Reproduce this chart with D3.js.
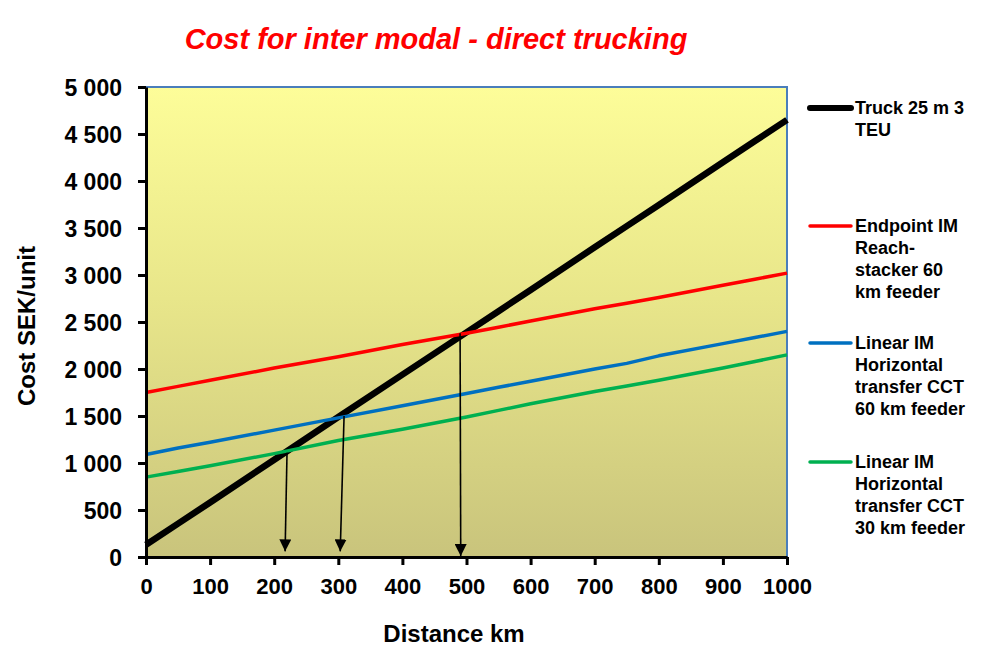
<!DOCTYPE html>
<html><head><meta charset="utf-8">
<script src="https://cdn.jsdelivr.net/npm/d3@7"></script>
<style>body{margin:0;background:#fff;}svg{display:block;font-family:Arial,"Liberation Sans",sans-serif;}</style>
</head><body>
<svg id="c" width="1001" height="669"></svg>
<script>
const distance = [0, 50, 100, 200, 300, 400, 500, 550, 600, 700, 750, 800, 900, 950, 1000];
const truck    = [130, 355, 580, 1035, 1490, 1940, 2390, 2615, 2840, 3295, 3520, 3745, 4200, 4425, 4650];
const endpoint = [1750, 1815, 1880, 2010, 2130, 2260, 2380, 2445, 2510, 2640, 2700, 2760, 2890, 2955, 3020];
const linear60 = [1090, 1160, 1220, 1350, 1480, 1610, 1740, 1805, 1870, 2000, 2060, 2140, 2270, 2335, 2400];
const linear30 = [850, 910, 970, 1100, 1240, 1360, 1490, 1560, 1630, 1760, 1820, 1880, 2010, 2080, 2150];
const seriesNames = ["Truck 25 m 3 TEU", "Endpoint IM Reach-stacker 60 km feeder", "Linear IM Horizontal transfer CCT 60 km feeder", "Linear IM Horizontal transfer CCT 30 km feeder"];
const legendLines = [["Truck 25 m 3","TEU"],["Endpoint IM","Reach-","stacker 60","km feeder"],["Linear IM","Horizontal","transfer CCT","60 km feeder"],["Linear IM","Horizontal","transfer CCT","30 km feeder"]];
const xTicks = [0,100,200,300,400,500,600,700,800,900,1000];
const yTicks = [0,500,1000,1500,2000,2500,3000,3500,4000,4500,5000];
// break-even arrows in data units
const arrowStartX = [220, 309, 490];
const arrowStartY = [1110, 1500, 2380];
const arrowEndX   = [217, 303, 491];
const arrowEndY   = [60, 60, 10];

const svg = d3.select("#c");
const L=146, R=787, T=87, B=557;
const x = d3.scaleLinear().domain([0,1000]).range([L,R]);
const y = d3.scaleLinear().domain([0,5000]).range([B,T]);

const defs = svg.append("defs");
const g = defs.append("linearGradient").attr("id","bg").attr("x1",0).attr("y1",0).attr("x2",0).attr("y2",1);
g.append("stop").attr("offset","0%").attr("stop-color","#fdfd99");
g.append("stop").attr("offset","45%").attr("stop-color","#e8e68a");
g.append("stop").attr("offset","100%").attr("stop-color","#c9c47c");
defs.append("marker").attr("id","ah").attr("viewBox","0 0 10 10").attr("refX",10).attr("refY",5)
  .attr("markerWidth",12).attr("markerHeight",12).attr("markerUnits","userSpaceOnUse").attr("orient","auto")
  .append("path").attr("d","M0,0L10,5L0,10Z").attr("fill","#000");

svg.append("rect").attr("x",L).attr("y",T).attr("width",R-L).attr("height",B-T).attr("fill","url(#bg)");
svg.append("path").attr("d",`M${L},${T}H${R}V${B}`).attr("fill","none").attr("stroke","#4a7ebb").attr("stroke-width",2);

const colors = ["#000000","#ff0000","#0070c0","#00b050"];
const widths = [6.5,3.5,3.5,3.5];
const data = [truck, endpoint, linear60, linear30];
const line = d3.line().x(d=>x(d[0])).y(d=>y(d[1]));
data.forEach((s,i)=>{
  svg.append("path").datum(distance.map((d,j)=>[d,s[j]])).attr("d",line)
    .attr("fill","none").attr("stroke",colors[i]).attr("stroke-width",widths[i]).attr("stroke-linejoin","round");
});

arrowStartX.forEach((ax,i)=>{
  svg.append("line").attr("x1",x(ax)).attr("y1",y(arrowStartY[i])).attr("x2",x(arrowEndX[i])).attr("y2",y(arrowEndY[i]))
    .attr("stroke","#000").attr("stroke-width",1.6).attr("marker-end","url(#ah)");
});

const xa = svg.append("g").attr("transform",`translate(0,${B})`).call(d3.axisBottom(x).tickValues(xTicks).tickSize(8).tickPadding(13).tickSizeOuter(0).tickFormat(d3.format("d")));
const ya = svg.append("g").attr("transform",`translate(${L},0)`).call(d3.axisLeft(y).tickValues(yTicks).tickSize(8).tickPadding(16).tickSizeOuter(0)
  .tickFormat(d=>d3.format(",")(d).replace(/,/g," ")));
[xa,ya].forEach(a=>{
  a.select(".domain").attr("stroke","#000").attr("stroke-width",3);
  a.selectAll(".tick line").attr("stroke","#000").attr("stroke-width",3);
  a.selectAll("text").attr("font-weight","bold").attr("fill","#000").attr("font-family","Arial,'Liberation Sans',sans-serif");
});
xa.selectAll("text").attr("font-size",22);
ya.selectAll("text").attr("font-size",23).attr("dy","0.36em");

svg.append("text").attr("x",436).attr("y",49).attr("text-anchor","middle").attr("font-size",29).attr("font-weight","bold")
  .attr("font-style","italic").attr("fill","#ff0000").text("Cost for inter modal - direct trucking");
svg.append("text").attr("x",454).attr("y",642).attr("text-anchor","middle").attr("font-size",24).attr("font-weight","bold").text("Distance km");
svg.append("text").attr("transform","translate(35,326) rotate(-90)").attr("text-anchor","middle").attr("font-size",24).attr("font-weight","bold").text("Cost SEK/unit");

const legY = [108, 226, 343, 462];
legendLines.forEach((lines,i)=>{
  const lg = svg.append("g").attr("transform",`translate(0,${legY[i]})`);
  lg.append("title").text(seriesNames[i]);
  lg.append("line").attr("x1",810).attr("x2",851).attr("y1",0).attr("y2",0).attr("stroke",colors[i]).attr("stroke-width",i==0?6:3.5).attr("stroke-linecap","round");
  lines.forEach((t,k)=>{
    lg.append("text").attr("x",855).attr("y",k*22).attr("dy","0.35em").attr("font-size",18).attr("font-weight","bold").text(t);
  });
});
</script>
</body></html>
